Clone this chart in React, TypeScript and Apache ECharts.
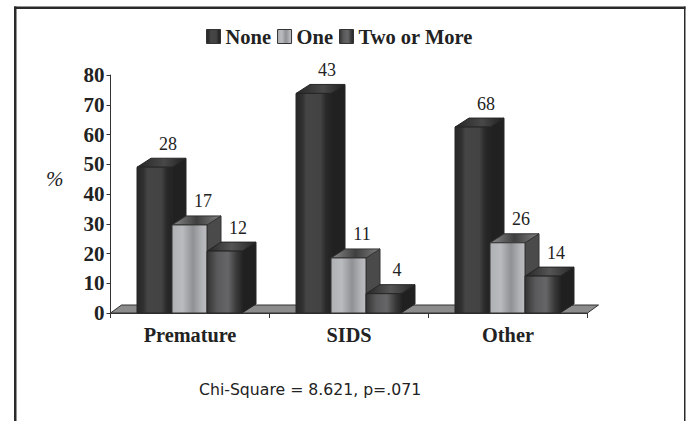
import React, { useEffect, useRef } from "react";
import * as echarts from "echarts";

const categories = ["Premature", "SIDS", "Other"];
const seriesNames = ["None", "One", "Two or More"];
const percentNone = [49, 73.8, 62.5];
const percentOne = [29.6, 18.5, 23.6];
const percentTwo = [20.8, 6.5, 12.4];
const countNone = [28, 43, 68];
const countOne = [17, 11, 26];
const countTwo = [12, 4, 14];
const yTicks = { min: 0, max: 80, interval: 10 };
const note = "Chi-Square = 8.621, p=.071";

const SERIF = "Liberation Serif";
const INK = "#222222";
const BAR_W = 35;
const DX = 14;
const DY = 9;

const grad = (stops: [number, string][]) =>
  new echarts.graphic.LinearGradient(0, 0, 1, 0, stops.map(([offset, color]) => ({ offset, color })));

const styles = [
  {
    front: () => grad([[0, "#282828"], [0.18, "#303030"], [0.3, "#454545"], [0.7, "#434343"], [0.85, "#2a2a2a"], [1, "#222222"]]),
    top: () => grad([[0, "#262626"], [0.55, "#484848"], [1, "#1f1f1f"]]),
    side: "#212121",
    stroke: "#262626",
  },
  {
    front: () => grad([[0, "#aeb0b4"], [0.3, "#b9bbbf"], [0.6, "#909195"], [0.85, "#b2b3b7"], [1, "#bcbdc1"]]),
    top: () => grad([[0, "#8a8a8a"], [0.5, "#3f3f3f"], [1, "#808080"]]),
    side: "#4a4a4a",
    stroke: "#333333",
  },
  {
    front: () => grad([[0, "#333333"], [0.3, "#5a5a5c"], [0.6, "#666668"], [0.85, "#383838"], [1, "#262626"]]),
    top: () => grad([[0, "#262626"], [0.5, "#555555"], [1, "#262626"]]),
    side: "#202020",
    stroke: "#262626",
  },
];

const makeBar = (seriesIndex: number) => (_params: any, api: any) => {
  const s = styles[seriesIndex];
  const [cx, y] = api.coord([api.value(0), api.value(1)]);
  const [, y0] = api.coord([api.value(0), 0]);
  const x0 = cx - 53 + seriesIndex * BAR_W;
  const x1 = x0 + BAR_W;
  return {
    type: "group",
    children: [
      {
        type: "polygon",
        shape: { points: [[x1, y], [x1 + DX, y - DY], [x1 + DX, y0 - DY], [x1, y0]] },
        style: { fill: s.side, stroke: s.stroke, lineWidth: 1 },
      },
      {
        type: "polygon",
        shape: { points: [[x0, y], [x0 + DX, y - DY], [x1 + DX, y - DY], [x1, y]] },
        style: { fill: s.top(), stroke: s.stroke, lineWidth: 1 },
      },
      {
        type: "rect",
        shape: { x: x0, y, width: BAR_W, height: y0 - y },
        style: { fill: s.front(), stroke: s.stroke, lineWidth: 1 },
      },
      {
        type: "text",
        style: {
          x: x1 - 4,
          y: y - DY - 14.5,
          text: String(api.value(2)),
          fill: INK,
          fontFamily: SERIF,
          fontSize: 18,
          align: "center",
          verticalAlign: "middle",
        },
      },
    ],
  };
};

const floorItem = (params: any, _api: any) => {
  const { x, y, width, height } = params.coordSys;
  const b = y + height;
  return {
    type: "polygon",
    shape: { points: [[x, b], [x + 11, b - 8], [x + width + 11, b - 8], [x + width, b]] },
    style: { fill: "#8c8c8c", stroke: "#333333", lineWidth: 1 },
  };
};

export default function App() {
  const ref = useRef<HTMLDivElement>(null);
  useEffect(() => {
    const chart = echarts.init(ref.current!, null, { renderer: "svg" });
    const values = [percentNone, percentOne, percentTwo];
    const counts = [countNone, countOne, countTwo];
    chart.setOption({
      animation: false,
      backgroundColor: "#ffffff",
      grid: { left: 110.5, right: 100.5, top: 75, height: 238 },
      legend: {
        data: seriesNames.map((name, i) => ({ name, itemStyle: { color: styles[i].front(), borderColor: "#333", borderWidth: 1 } })),
        left: 201,
        top: 21,
        icon: "rect",
        itemWidth: 14,
        itemHeight: 14,
        itemGap: 6,
        selectedMode: false,
        textStyle: { fontFamily: SERIF, fontWeight: "bold", fontSize: 20.5, color: INK },
      },
      xAxis: {
        type: "category",
        data: categories,
        axisLine: { lineStyle: { color: "#333333", width: 1 } },
        axisTick: { show: true, length: 5, alignWithLabel: false, lineStyle: { color: "#333333" } },
        axisLabel: { fontFamily: SERIF, fontWeight: "bold", fontSize: 20.3, color: INK, margin: 12 },
      },
      yAxis: {
        type: "value",
        ...yTicks,
        splitLine: { show: false },
        axisLine: { show: true, lineStyle: { color: "#333333", width: 1 } },
        axisTick: { show: true, length: 4, lineStyle: { color: "#333333" } },
        axisLabel: { fontFamily: SERIF, fontWeight: "bold", fontSize: 21, color: INK, margin: 6 },
      },
      series: [
        {
          type: "custom",
          name: "floor",
          silent: true,
          clip: false,
          renderItem: floorItem,
          data: [[0, 0]],
          z: 1,
        },
        ...seriesNames.map((name, i) => ({
          type: "custom",
          name,
          clip: false,
          z: 2 + i,
          renderItem: makeBar(i),
          itemStyle: { color: styles[i].front() },
          encode: { x: 0, y: 1 },
          data: categories.map((_, c) => [c, values[i][c], counts[i][c]]),
        })),
      ],
      graphic: [
        { type: "rect", shape: { x: 14, y: 6.5, width: 671.5, height: 2.5 }, style: { fill: "#2a2a2a" } },
        { type: "rect", shape: { x: 14, y: 6.5, width: 2.5, height: 415 }, style: { fill: "#2a2a2a" } },
        { type: "rect", shape: { x: 684, y: 6.5, width: 1.5, height: 415 }, style: { fill: "#2a2a2a" } },
        {
          type: "text",
          x: 46,
          y: 168,
          style: { text: "%", fill: INK, fontFamily: SERIF, fontStyle: "italic", fontSize: 21 },
        },
        {
          type: "text",
          x: 199,
          y: 381,
          style: { text: note, fill: INK, fontFamily: "DejaVu Sans", fontSize: 15.7 },
        },
      ],
    });
    return () => chart.dispose();
  }, []);
  return <div ref={ref} style={{ position: "absolute", left: 0, top: 0, width: 688, height: 421 }} />;
}
